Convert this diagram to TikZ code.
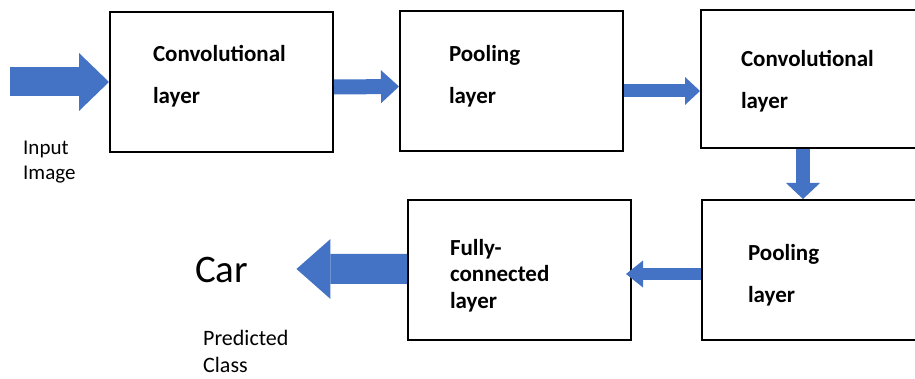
\documentclass[tikz,border=0pt]{standalone}
\usepackage{fontspec}
\setmainfont{Carlito}
\usetikzlibrary{arrows.meta,positioning}
\definecolor{arrowblue}{HTML}{4472C4}

\begin{document}
\begin{tikzpicture}[x=1pt,y=-1pt,every node/.style={inner sep=0pt},
            box/.style={draw,line width=2pt,minimum height=140pt,align=left,
              font=\fontsize{23}{42}\selectfont\bfseries},
            txt/.style={align=left,anchor=north west,font=\fontsize{21}{25}\selectfont},
            blk/.style n args={3}{arrowblue,line width=#1,
              -{Triangle[width=#2,length=#3,line width=0pt]}}]
  \useasboundingbox (0,0) rectangle (915,379);
  \clip (0,0) rectangle (915,379);
  % layers
  \node[box,text width=137pt,inner xsep=43pt,text depth=56.5pt] (conv1) at (221.5,82) {Convolutional\\layer};
  \node[box,text width=125pt,inner xsep=49pt,text depth=55.5pt] (pool1) at (511.5,81.5) {Pooling\\layer};
  \node[box,text width=143pt,inner xsep=40pt,minimum height=138pt,text depth=40.5pt] (conv2) at (812.5,79) {Convolutional\\layer};
  \node[box,text width=131pt,inner xsep=46pt,text depth=34.5pt] (pool2) at (813.5,270) {Pooling\\layer};
  \node[box,text width=139pt,inner xsep=42pt,text depth=45.5pt,font=\fontsize{23}{26.5}\selectfont\bfseries] (fc) at (519.5,270) {Fully-\\connected\\layer};
  % labels
  \node[txt] (inp) at (23,141) {Input\\Image};
  \node[anchor=base west,font=\fontsize{39}{44}\selectfont] (car) at (195,283) {Car};
  \node[txt,font=\fontsize{22}{27}\selectfont] (pred) at (203,330) {Predicted\\Class};
  \coordinate (src) at (10,82);
  % arrows
  \draw[blk={29pt}{58pt}{30pt}] (src) -- (conv1.west);
  \draw[blk={15pt}{33pt}{18pt}] ([yshift=-5pt]conv1.east) -- ([yshift=-5pt]pool1.west);
  \draw[blk={13pt}{28pt}{15pt}] ([yshift=-9.5pt]pool1.east) -- ([yshift=-12pt]conv2.west);
  \draw[blk={14pt}{34pt}{16pt}] ([xshift=-9.5pt]conv2.south) -- ([xshift=-10.5pt]pool2.north);
  \draw[blk={12pt}{27pt}{17pt}] ([yshift=-4pt]pool2.west) -- ([xshift=-6pt,yshift=-4pt]fc.east);
  \draw[blk={30pt}{60pt}{34pt}] ([yshift=1pt]fc.west) -- ([xshift=48pt,yshift=1.5pt]car.east);
\end{tikzpicture}
\end{document}
